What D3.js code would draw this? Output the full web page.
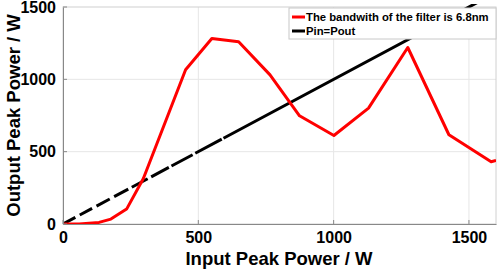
<!DOCTYPE html>
<html>
<head>
<meta charset="utf-8">
<script src="https://cdn.jsdelivr.net/npm/d3@7"></script>
<style>
  body { margin: 0; background: #fff; }
  svg text { font-family: "Liberation Sans", Arial, sans-serif; font-weight: bold; }
</style>
</head>
<body>
<div id="chart"></div>
<script>
// filter output
const inputPower = [0, 60, 133, 177, 235, 297, 453, 550, 649, 765, 874, 1001, 1129, 1274, 1426, 1582, 1600];
const outputPower = [0, 0, 11, 34, 103, 315, 1066, 1282, 1260, 1031, 748, 612, 801, 1220, 617, 430, 440];
// reference line Pin = Pout
const pinX = [0, 1600];
const xTicks = [0, 500, 1000, 1500];
const yTicks = [0, 500, 1000, 1500];
const legendLabels = ["The bandwith of the filter is 6.8nm", "Pin=Pout"];

function chart() {
  const margin = {top: 7, right: 2, bottom: 50, left: 63};
  const W = 498, H = 274;
  const w = W - margin.left - margin.right;
  const h = H - margin.top - margin.bottom;

  const svg = d3.select("#chart").append("svg")
    .attr("width", W).attr("height", H);
  const g = svg.append("g")
    .attr("transform", "translate(" + margin.left + "," + margin.top + ")");

  const x = d3.scaleLinear().domain([0, 1600]).range([0, w]);
  const y = d3.scaleLinear().domain([0, 1500]).range([h, 0]);

  // grid
  g.append("g").selectAll("line").data(xTicks.slice(1)).enter().append("line")
    .attr("x1", d => x(d)).attr("x2", d => x(d))
    .attr("y1", 0).attr("y2", h)
    .attr("stroke", "#e6e6e6").attr("stroke-width", 1);
  g.append("g").selectAll("line").data(yTicks.slice(1, 3)).enter().append("line")
    .attr("x1", 0).attr("x2", w)
    .attr("y1", d => y(d)).attr("y2", d => y(d))
    .attr("stroke", "#e6e6e6").attr("stroke-width", 1);

  // box
  g.append("rect").attr("width", w).attr("height", h)
    .attr("fill", "none").attr("stroke", "#d0d0d0").attr("stroke-width", 1);

  svg.append("clipPath").attr("id", "clip")
    .append("rect").attr("width", w).attr("height", h + 3).attr("y", -3);

  const line = d3.line().x(d => x(d[0])).y(d => y(d[1]));

  g.append("path")
    .datum(pinX.map(v => [v, v]))
    .attr("d", line)
    .attr("fill", "none").attr("stroke", "#000").attr("stroke-width", 3)
    .attr("stroke-dasharray", "14,5,14,5,15,5,16,4,18,4,20,3,24,3,30,2,2000")
    .attr("clip-path", "url(#clip)");

  g.append("path")
    .datum(inputPower.map((v, i) => [v, outputPower[i]]))
    .attr("d", line)
    .attr("fill", "none").attr("stroke", "#ff0000").attr("stroke-width", 3)
    .attr("stroke-linejoin", "round")
    .attr("clip-path", "url(#clip)");

  // axes
  const fmt = d3.format("d");
  const xAxis = d3.axisBottom(x).tickValues(xTicks).tickFormat(fmt).tickSize(0).tickPadding(8);
  const gx = g.append("g").attr("transform", "translate(0," + h + ")").call(xAxis);
  gx.select(".domain").attr("stroke", "#888");
  gx.selectAll("text").style("font-size", "16px").attr("fill", "#000");

  const yAxis = d3.axisLeft(y).tickValues(yTicks).tickFormat(fmt).tickSize(0).tickPadding(7);
  const gy = g.append("g").call(yAxis);
  gy.select(".domain").attr("stroke", "#888");
  gy.selectAll("text").style("font-size", "16px").attr("fill", "#000");

  // small inner ticks
  g.append("g").selectAll("line").data(xTicks).enter().append("line")
    .attr("x1", d => x(d)).attr("x2", d => x(d))
    .attr("y1", h).attr("y2", h - 4).attr("stroke", "#888");
  g.append("g").selectAll("line").data(yTicks).enter().append("line")
    .attr("x1", 0).attr("x2", 4)
    .attr("y1", d => y(d)).attr("y2", d => y(d)).attr("stroke", "#888");

  svg.append("text")
    .attr("x", 279).attr("y", 265)
    .attr("text-anchor", "middle")
    .style("font-size", "18.5px")
    .text("Input Peak Power / W");

  svg.append("text")
    .attr("transform", "translate(20," + (margin.top + h / 2) + ") rotate(-90)")
    .attr("text-anchor", "middle")
    .style("font-size", "18.5px")
    .text("Output Peak Power / W");

  // legend
  const lg = svg.append("g").attr("transform", "translate(289,8)");
  lg.append("rect").attr("width", 207).attr("height", 31)
    .attr("fill", "#fff").attr("stroke", "#c8c8c8").attr("stroke-width", 1);
  const legendColors = ["#ff0000", "#000"];
  legendLabels.forEach((t, i) => {
    lg.append("line").attr("x1", 3).attr("x2", 16)
      .attr("y1", 9 + i * 14).attr("y2", 9 + i * 14)
      .attr("stroke", legendColors[i]).attr("stroke-width", 3);
    lg.append("text").attr("x", 17).attr("y", 13 + i * 14)
      .style("font-size", "11.3px").text(t);
  });
}

window.onload = function() { chart(); };
</script>
</body>
</html>
